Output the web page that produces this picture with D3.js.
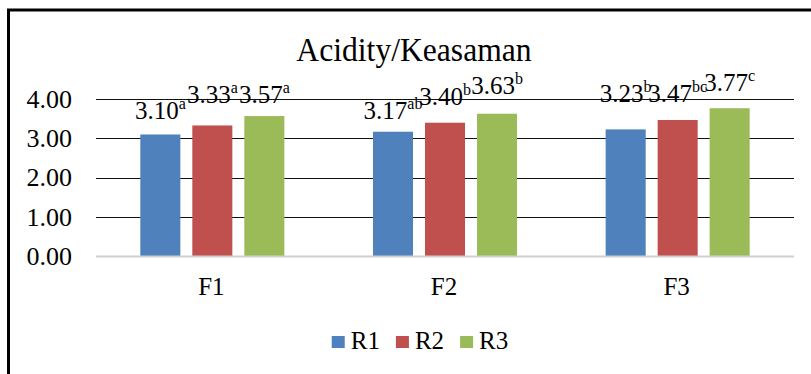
<!DOCTYPE html>
<html>
<head>
<meta charset="utf-8" />
<script src="https://cdn.jsdelivr.net/npm/d3@7"></script>
<title>Acidity/Keasaman</title>
<style>
  body { margin: 0; background: #fff; }
</style>
</head>
<body>
<script>
// data
var categories = ["F1", "F2", "F3"];
var seriesNames = ["R1", "R2", "R3"];
var values = {
  R1: [3.10, 3.17, 3.23],
  R2: [3.33, 3.40, 3.47],
  R3: [3.57, 3.63, 3.77]
};
var letters = {
  R1: ["a", "ab", "b"],
  R2: ["a", "b", "bc"],
  R3: ["a", "b", "c"]
};
var yTicks = [0, 1, 2, 3, 4];

// labels were dragged by hand in the original, extra lift in px
var labelLift = {
  R1: [10, 8, 22],
  R2: [17, 13, 13],
  R3: [8, 15, 12]
};

var colors = { R1: "#4F81BD", R2: "#C0504D", R3: "#9BBB59" };
var FONT = "'Liberation Serif', 'Times New Roman', Times, serif";

var W = 811, H = 374;
var svg = d3.select("body").append("svg")
    .attr("width", W)
    .attr("height", H)
    .style("font-family", FONT);

svg.append("rect")
    .attr("width", W).attr("height", H)
    .attr("fill", "#fff");

// outer frame (cut off at right and bottom)
svg.append("rect")
    .attr("x", 8.5).attr("y", 10)
    .attr("width", 900).attr("height", 500)
    .attr("fill", "none")
    .attr("stroke", "#000")
    .attr("stroke-width", 3);

var plot = { left: 96, right: 794, top: 99.2, bottom: 256 };

var y = d3.scaleLinear().domain([0, 4]).range([plot.bottom, plot.top]);
var x0 = d3.scaleBand().domain(categories).range([plot.left, plot.right]);
var x1 = d3.scaleBand().domain(seriesNames)
    .range([-78, 78])
    .paddingInner(0.23)
    .paddingOuter(0.115);

// title (the original text is a bit condensed)
svg.append("text")
    .attr("transform", "translate(414,61) scale(0.93,1)")
    .attr("text-anchor", "middle")
    .style("font-size", "34px")
    .text("Acidity/Keasaman");

// gridlines
svg.append("g").selectAll("line")
  .data(yTicks.filter(function(d) { return d > 0; }))
  .join("line")
    .attr("x1", plot.left).attr("x2", plot.right)
    .attr("y1", function(d) { return Math.round(y(d)) + 0.5; })
    .attr("y2", function(d) { return Math.round(y(d)) + 0.5; })
    .attr("stroke", "#111")
    .attr("stroke-width", 1.2);

// y tick labels
svg.append("g").selectAll("text")
  .data(yTicks)
  .join("text")
    .attr("x", 72)
    .attr("y", function(d) { return y(d); })
    .attr("dy", "0.34em")
    .attr("text-anchor", "end")
    .style("font-size", "26px")
    .text(function(d) { return d3.format(".2f")(d); });

// bars
var rows = [];
seriesNames.forEach(function(s) {
  categories.forEach(function(c, i) {
    rows.push({ s: s, c: c, i: i, v: values[s][i], l: letters[s][i] });
  });
});

svg.append("g").selectAll("rect")
  .data(rows)
  .join("rect")
    .attr("x", function(d) { return x0(d.c) + x0.bandwidth() / 2 + x1(d.s); })
    .attr("y", function(d) { return y(d.v); })
    .attr("width", x1.bandwidth())
    .attr("height", function(d) { return y(0) - y(d.v); })
    .attr("fill", function(d) { return colors[d.s]; });

// baseline
svg.append("line")
    .attr("x1", plot.left).attr("x2", plot.right)
    .attr("y1", y(0) + 0.5).attr("y2", y(0) + 0.5)
    .attr("stroke", "#d0d0d0")
    .attr("stroke-width", 2);

// category labels
svg.append("g").selectAll("text")
  .data(categories)
  .join("text")
    .attr("x", function(d) { return x0(d) + x0.bandwidth() / 2 - 1; })
    .attr("y", 295)
    .attr("text-anchor", "middle")
    .style("font-size", "25px")
    .text(function(d) { return d; });

// data labels with superscript letters
var lab = svg.append("g").selectAll("text")
  .data(rows)
  .join("text")
    .attr("x", function(d) { return x0(d.c) + x0.bandwidth() / 2 + x1(d.s) + x1.bandwidth() / 2; })
    .attr("y", function(d) { return y(d.v) - 5 - labelLift[d.s][d.i]; })
    .attr("text-anchor", "middle")
    .style("font-size", "25px");
lab.append("tspan").text(function(d) { return d3.format(".2f")(d.v); });
lab.append("tspan")
    .attr("dy", -10)
    .style("font-size", "16px")
    .text(function(d) { return d.l; });

// legend
var legend = svg.append("g");
var lx = 0;
seriesNames.forEach(function(s, i) {
  var g = legend.append("g").attr("transform", "translate(" + lx + ",0)");
  g.append("rect")
      .attr("x", 0).attr("y", 336)
      .attr("width", 13).attr("height", 12)
      .attr("fill", colors[s]);
  var t = g.append("text")
      .attr("x", 19).attr("y", 349)
      .style("font-size", "25px")
      .text(s);
  lx += 19 + t.node().getComputedTextLength() + 16;
});
var legW = lx - 16;
legend.attr("transform", "translate(" + (420 - legW / 2) + ",0)");
</script>
</body>
</html>
